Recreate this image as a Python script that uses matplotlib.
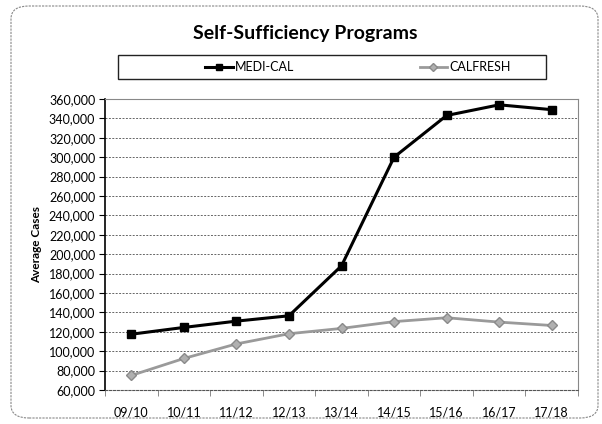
import matplotlib
matplotlib.use("Agg")
import matplotlib.pyplot as plt
from matplotlib.patches import FancyBboxPatch, Rectangle
from matplotlib.lines import Line2D
from matplotlib.ticker import FuncFormatter, MultipleLocator

years = ["09/10", "10/11", "11/12", "12/13", "13/14", "14/15", "15/16", "16/17", "17/18"]
medi_cal = [117500, 124500, 131000, 136500, 188000, 300000, 343000, 354000, 349000]
calfresh = [75000, 92500, 107500, 118000, 123500, 130500, 134500, 130000, 126500]

plt.rcParams['font.family'] = ['Lato', 'DejaVu Sans']

fig = plt.figure(figsize=(6.02, 4.24), dpi=100)
W, H = 602, 424
ax = fig.add_axes([105 / W, 1 - 390 / H, (578 - 105) / W, (390 - 99) / H])

x = list(range(len(years)))
ax.plot(x, medi_cal, color='black', lw=2.2, marker='s', ms=6, label='MEDI-CAL', zorder=3)
ax.plot(x, calfresh, color='#9a9a9a', lw=2.0, marker='D', ms=5, mfc='#b0b0b0',
        mec='#8a8a8a', label='CALFRESH', zorder=3)

ax.set_xlim(-0.5, len(years) - 0.5)
ax.set_ylim(60000, 360000)
ax.yaxis.set_major_locator(MultipleLocator(20000))
ax.yaxis.set_major_formatter(FuncFormatter(lambda v, p: f"{int(v):,}"))
ax.set_xticks(x)
ax.set_xticklabels(years)
ax.set_xticks([i - 0.5 for i in range(len(years) + 1)], minor=True)
ax.tick_params(axis='x', which='major', length=0, pad=12, labelsize=9)
ax.tick_params(axis='x', which='minor', length=4, color='#777777')
ax.tick_params(axis='y', length=4, labelsize=9, pad=3)
ax.grid(axis='y', color='#666666', lw=0.7, ls=(0, (2, 1.5)))
ax.set_axisbelow(True)
for s in ['top', 'right']:
    ax.spines[s].set_color('#888888')
    ax.spines[s].set_linewidth(0.8)
ax.spines['left'].set_color('black')
ax.spines['left'].set_linewidth(1.2)
ax.spines['bottom'].set_color('#555555')
ax.spines['bottom'].set_linewidth(0.8)
ax.spines['bottom'].set_linestyle((0, (2, 1.5)))
ax.set_ylabel('Average Cases', fontsize=8.5, fontweight='bold', labelpad=5)

fig.text(305 / W, 1 - 33 / H, 'Self-Sufficiency Programs', ha='center', va='center',
         fontsize=14, fontweight='bold')

# legend box
fig.patches.append(Rectangle((118 / W, 1 - 79 / H), (546 - 118) / W, 24 / H,
                             transform=fig.transFigure, fill=False, ec='#222222', lw=1.0))
handles = [Line2D([], [], color='black', lw=2.2, marker='s', ms=5),
           Line2D([], [], color='#9a9a9a', lw=2.0, marker='D', ms=4, mfc='#b0b0b0', mec='#8a8a8a')]
fig.legend(handles, ['MEDI-CAL', 'CALFRESH'], loc='center', bbox_to_anchor=(358 / W, 1 - 67 / H),
           ncol=2, frameon=False, fontsize=9, handlelength=2.2, handletextpad=0.2,
           columnspacing=10.0)

# outer rounded border
fig.patches.append(FancyBboxPatch((11 / W, 6 / H), (598 - 11) / W, (418 - 6) / H,
                                  boxstyle='round,pad=0,rounding_size=0.03',
                                  transform=fig.transFigure, fill=False, ec='#888888',
                                  lw=0.8, ls=(0, (2, 1))))

fig.savefig('out.png', dpi=100)
